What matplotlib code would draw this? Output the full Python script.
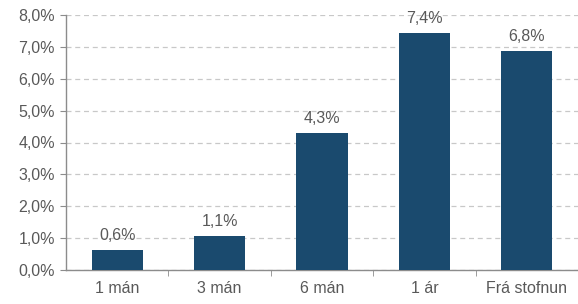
import numpy as np
import matplotlib.pyplot as plt
from matplotlib.ticker import FuncFormatter, FixedLocator

plt.rcParams['font.family'] = ['Liberation Sans', 'DejaVu Sans']

categories = ['1 mán', '3 mán', '6 mán', '1 ár', 'Frá stofnun']
values = [0.63, 1.07, 4.29, 7.43, 6.86]
labels = ['0,6%', '1,1%', '4,3%', '7,4%', '6,8%']

BAR = '#1a4a6e'
TXT = '#595959'
AX = '#8c8c8c'
FS = 11.5

fig = plt.figure(figsize=(5.78, 3.04), dpi=100)
ax = fig.add_axes([66 / 578, 34 / 304, 512 / 578, 255 / 304])

x = np.arange(len(categories))
ax.bar(x, values, width=0.5, color=BAR, zorder=3)
for xi, v, lab in zip(x, values, labels):
    ax.text(xi, v + 0.22, lab, ha='center', va='bottom', fontsize=FS, color=TXT)

ax.set_xlim(-0.5, len(categories) - 0.5)
ax.set_ylim(0, 8)
ax.set_yticks(np.arange(0, 8.01, 1))
ax.yaxis.set_major_formatter(FuncFormatter(lambda v, p: f'{v:.1f}%'.replace('.', ',')))
ax.set_xticks(x)
ax.set_xticklabels(categories)
ax.xaxis.set_minor_locator(FixedLocator(np.arange(0.5, len(categories) - 0.5, 1)))
ax.tick_params(axis='x', which='major', length=0, pad=8, labelsize=FS, labelcolor=TXT)
ax.tick_params(axis='x', which='minor', length=4, color=AX)
ax.tick_params(axis='y', length=4, color=AX, labelsize=FS, labelcolor=TXT, pad=4)

ax.grid(axis='y', color='#c8c8c8', linestyle=(0, (4, 3)), linewidth=0.9, zorder=0)
for s in ['top', 'right']:
    ax.spines[s].set_visible(False)
for s in ['left', 'bottom']:
    ax.spines[s].set_color(AX)
    ax.spines[s].set_linewidth(1.0)

fig.savefig('out.png', dpi=100)
